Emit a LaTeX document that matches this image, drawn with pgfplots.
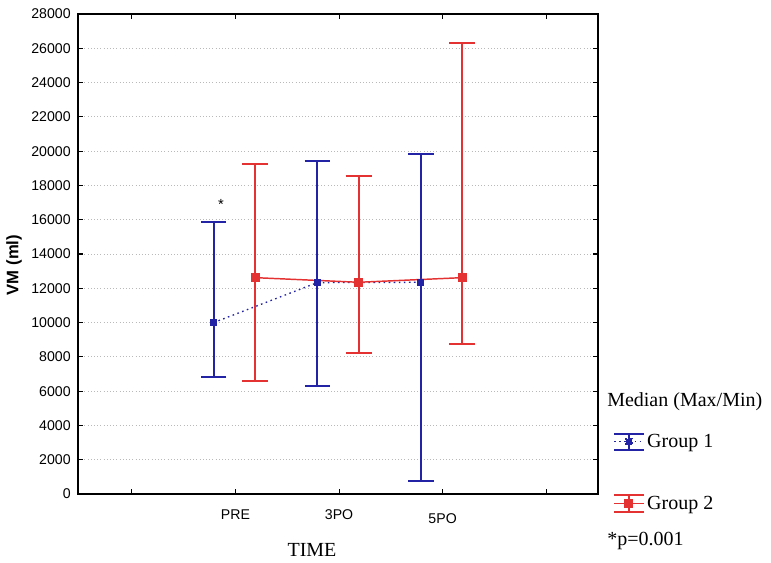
\documentclass[border=0pt]{standalone}
\usepackage{pgfplots}
\pgfplotsset{compat=1.18}
\usepackage{fontspec}
\setmainfont{Liberation Sans}
\newfontfamily\timesfont{Liberation Serif}

\definecolor{gblue}{RGB}{35,35,165}
\definecolor{gred}{RGB}{228,50,50}

\begin{document}
\begin{tikzpicture}
\begin{axis}[
    scale only axis,
    width=390pt, height=360pt,
    xmin=-0.52, xmax=4.5,
    ymin=0, ymax=28000,
    xtick={0,1,2,3,4},
    xticklabels={,PRE,3PO,\raisebox{-3pt}[\height]{5PO},},
    ytick={0,2000,...,28000},
    scaled y ticks=false,
    /pgf/number format/assume math mode=true,
    /pgf/number format/set thousands separator={},
    tick label style={font=\fontsize{10.6}{12}\selectfont},
    xticklabel style={yshift=-8pt},
    yticklabel style={xshift=-2pt},
    axis line style={line width=1pt},
    tick style={black, line width=0.8pt},
    major tick length=4pt,
    ymajorgrids,
    major grid style={gray!55, dotted, line width=0.6pt},
    every axis y label/.style={at={(axis description cs:-0.123,0.477)}, rotate=90, anchor=center},
    ylabel={\fontsize{12.5}{14}\selectfont\bfseries VM (ml)},
    every axis x label/.style={at={(axis description cs:0.45,-0.117)}, anchor=center},
    xlabel={\timesfont\fontsize{15}{18}\selectfont TIME},
    legend cell align=left,
    legend style={at={(axis description cs:1.029,0.131)}, anchor=north west,
        draw=none, fill=none, inner sep=0pt, row sep=31pt,
        font={\timesfont\fontsize{15}{18}\selectfont}},
]
\coordinate (O) at (rel axis cs:0,0);

% Group 1: median with max/min
\addplot[gblue, dash pattern=on 1.2pt off 2.6pt, line width=1pt, mark=square*, mark size=2.2pt, mark options={solid},
    legend image code/.code={
        \draw[solid, line width=1.4pt] (0pt,-6pt) -- (22pt,-6pt) (0pt,6pt) -- (22pt,6pt) (11pt,-6pt) -- (11pt,6pt);
        \draw[dash pattern=on 1.2pt off 2.6pt, line width=1pt] (0pt,0pt) -- (22pt,0pt);
        \fill (8.8pt,-2.2pt) rectangle (13.2pt,2.2pt);
    },
    error bars/.cd, y dir=both, y explicit,
    error bar style={solid, line width=1.5pt},
    error mark options={solid, line width=1.5pt, mark size=9.5pt, rotate=90}]
coordinates {
    (0.79,10000) += (0,5850) -= (0,3200)
    (1.79,12330) += (0,7070) -= (0,6030)
    (2.79,12350) += (0,7480) -= (0,11610)
};

% Group 2: median with max/min
\addplot[gred, solid, line width=1.1pt, mark=square*, mark size=2.8pt,
    legend image code/.code={
        \draw[line width=1.3pt] (0pt,-6.5pt) -- (22pt,-6.5pt) (0pt,6.5pt) -- (22pt,6.5pt) (11pt,-6.5pt) -- (11pt,6.5pt);
        \draw[line width=1pt] (0pt,0pt) -- (22pt,0pt);
        \fill (8.2pt,-2.8pt) rectangle (13.8pt,2.8pt);
    },
    error bars/.cd, y dir=both, y explicit,
    error bar style={solid, line width=1.4pt},
    error mark options={solid, line width=1.4pt, mark size=9.8pt, rotate=90}]
coordinates {
    (1.19,12620) += (0,6610) -= (0,6050)
    (2.19,12350) += (0,6180) -= (0,4110)
    (3.19,12620) += (0,13680) -= (0,3850)
};

\node[font=\fontsize{11}{13}\selectfont] at (axis cs:0.86,16900) {*};
\legend{Group 1, Group 2}
\end{axis}

\begin{scope}[shift={(O)}, xshift=-58.5pt, yshift=370.5pt, x=0.75pt, y=-0.75pt]
    \node[anchor=west, inner sep=0pt, font={\timesfont\fontsize{15}{18}\selectfont}] at (607,402) {Median (Max/Min)};
    \node[anchor=west, inner sep=0pt, font={\timesfont\fontsize{15}{18}\selectfont}] at (607,541) {*p=0.001};
    \pgfresetboundingbox
    \path (0,0) rectangle (771,563);
\end{scope}
\end{tikzpicture}
\end{document}
